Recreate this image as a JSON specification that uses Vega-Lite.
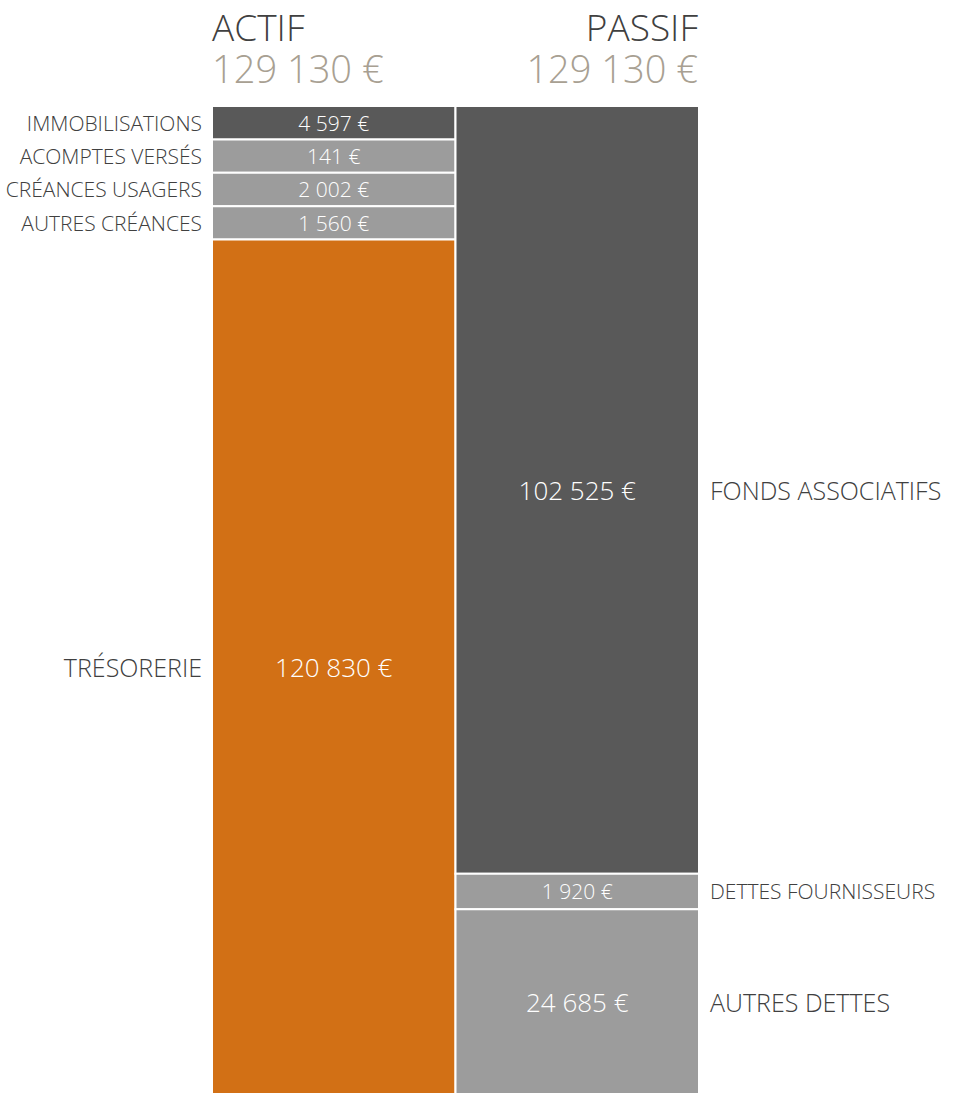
{
  "$schema": "https://vega.github.io/schema/vega-lite/v6.json",
  "autosize": {"type": "none"},
  "padding": {"left": 212, "top": 106, "right": 255, "bottom": 3},
  "width": 487,
  "height": 988,
  "background": "white",
  "config": {
    "view": {"stroke": null},
    "font": "Open Sans",
    "locale": {"number": {"decimal": ",", "thousands": " ", "grouping": [3], "currency": ["", " €"]}}
  },
  "data": {
    "values": [
      {"colonne": "ACTIF", "poste": "IMMOBILISATIONS", "montant": 4597, "ordre": 1, "nature": "stable"},
      {"colonne": "ACTIF", "poste": "ACOMPTES VERSÉS", "montant": 141, "ordre": 2, "nature": "circulant"},
      {"colonne": "ACTIF", "poste": "CRÉANCES USAGERS", "montant": 2002, "ordre": 3, "nature": "circulant"},
      {"colonne": "ACTIF", "poste": "AUTRES CRÉANCES", "montant": 1560, "ordre": 4, "nature": "circulant"},
      {"colonne": "ACTIF", "poste": "TRÉSORERIE", "montant": 120830, "ordre": 5, "nature": "trésorerie"},
      {"colonne": "PASSIF", "poste": "FONDS ASSOCIATIFS", "montant": 102525, "ordre": 1, "nature": "stable"},
      {"colonne": "PASSIF", "poste": "DETTES FOURNISSEURS", "montant": 1920, "ordre": 2, "nature": "circulant"},
      {"colonne": "PASSIF", "poste": "AUTRES DETTES", "montant": 24685, "ordre": 3, "nature": "circulant"}
    ]
  },
  "transform": [
    {"calculate": "max(datum.montant, 4720)", "as": "hauteur"}
  ],
  "encoding": {
    "x": {"field": "colonne", "type": "nominal", "axis": null,
          "scale": {"domain": ["ACTIF", "PASSIF"], "paddingInner": 0, "paddingOuter": 0}}
  },
  "layer": [
    {
      "mark": {"type": "bar", "stroke": "white", "strokeWidth": 2},
      "encoding": {
        "y": {"field": "hauteur", "type": "quantitative", "stack": "normalize", "axis": null},
        "order": {"field": "ordre", "sort": "descending"},
        "color": {"field": "nature", "type": "nominal", "legend": null,
                  "scale": {"domain": ["stable", "circulant", "trésorerie"], "range": ["#595959", "#9c9c9c", "#d27015"]}}
      }
    },
    {
      "mark": {"type": "text", "color": "white", "fontWeight": 300, "baseline": "middle", "dy": 2},
      "encoding": {
        "y": {"field": "hauteur", "type": "quantitative", "stack": "normalize", "bandPosition": 0.5},
        "order": {"field": "ordre", "sort": "descending"},
        "text": {"field": "montant", "type": "quantitative", "format": "$,.0f"},
        "size": {"condition": {"test": "datum.montant > 10000", "value": 26}, "value": 21}
      }
    },
    {
      "transform": [{"filter": "datum.colonne == 'ACTIF'"}],
      "mark": {"type": "text", "color": "#404040", "fontWeight": 300, "baseline": "middle", "align": "right", "dx": -10, "dy": 2},
      "encoding": {
        "x": {"field": "colonne", "type": "nominal", "bandPosition": 0},
        "y": {"field": "hauteur", "type": "quantitative", "stack": "normalize", "bandPosition": 0.5},
        "order": {"field": "ordre", "sort": "descending"},
        "text": {"field": "poste", "type": "nominal"},
        "size": {"condition": {"test": "datum.montant > 10000", "value": 25}, "value": 21}
      }
    },
    {
      "transform": [{"filter": "datum.colonne == 'PASSIF'"}],
      "mark": {"type": "text", "color": "#404040", "fontWeight": 300, "baseline": "middle", "align": "left", "dx": 11, "dy": 2},
      "encoding": {
        "x": {"field": "colonne", "type": "nominal", "bandPosition": 1},
        "y": {"field": "hauteur", "type": "quantitative", "stack": "normalize", "bandPosition": 0.5},
        "order": {"field": "ordre", "sort": "descending"},
        "text": {"field": "poste", "type": "nominal"},
        "size": {"condition": {"test": "datum.montant > 10000", "value": 25}, "value": 21}
      }
    },
    {
      "transform": [{"filter": "datum.colonne == 'ACTIF'"}, {"aggregate": [{"op": "sum", "field": "montant", "as": "total"}], "groupby": ["colonne"]}],
      "mark": {"type": "text", "color": "#404040", "fontWeight": 300, "fontSize": 37, "baseline": "alphabetic", "align": "left", "dx": 0, "dy": -65},
      "encoding": {
        "x": {"field": "colonne", "type": "nominal", "bandPosition": 0},
        "y": {"datum": 1, "type": "quantitative"},
        "text": {"field": "colonne", "type": "nominal"}
      }
    },
    {
      "transform": [{"filter": "datum.colonne == 'ACTIF'"}, {"aggregate": [{"op": "sum", "field": "montant", "as": "total"}], "groupby": ["colonne"]}],
      "mark": {"type": "text", "color": "#a8a092", "fontWeight": 300, "fontSize": 38, "baseline": "alphabetic", "align": "left", "dx": 0, "dy": -23},
      "encoding": {
        "x": {"field": "colonne", "type": "nominal", "bandPosition": 0},
        "y": {"datum": 1, "type": "quantitative"},
        "text": {"field": "total", "type": "quantitative", "format": "$,.0f"}
      }
    },
    {
      "transform": [{"filter": "datum.colonne == 'PASSIF'"}, {"aggregate": [{"op": "sum", "field": "montant", "as": "total"}], "groupby": ["colonne"]}],
      "mark": {"type": "text", "color": "#404040", "fontWeight": 300, "fontSize": 37, "baseline": "alphabetic", "align": "right", "dx": -1, "dy": -65},
      "encoding": {
        "x": {"field": "colonne", "type": "nominal", "bandPosition": 1},
        "y": {"datum": 1, "type": "quantitative"},
        "text": {"field": "colonne", "type": "nominal"}
      }
    },
    {
      "transform": [{"filter": "datum.colonne == 'PASSIF'"}, {"aggregate": [{"op": "sum", "field": "montant", "as": "total"}], "groupby": ["colonne"]}],
      "mark": {"type": "text", "color": "#a8a092", "fontWeight": 300, "fontSize": 38, "baseline": "alphabetic", "align": "right", "dx": -1, "dy": -23},
      "encoding": {
        "x": {"field": "colonne", "type": "nominal", "bandPosition": 1},
        "y": {"datum": 1, "type": "quantitative"},
        "text": {"field": "total", "type": "quantitative", "format": "$,.0f"}
      }
    }
  ]
}
